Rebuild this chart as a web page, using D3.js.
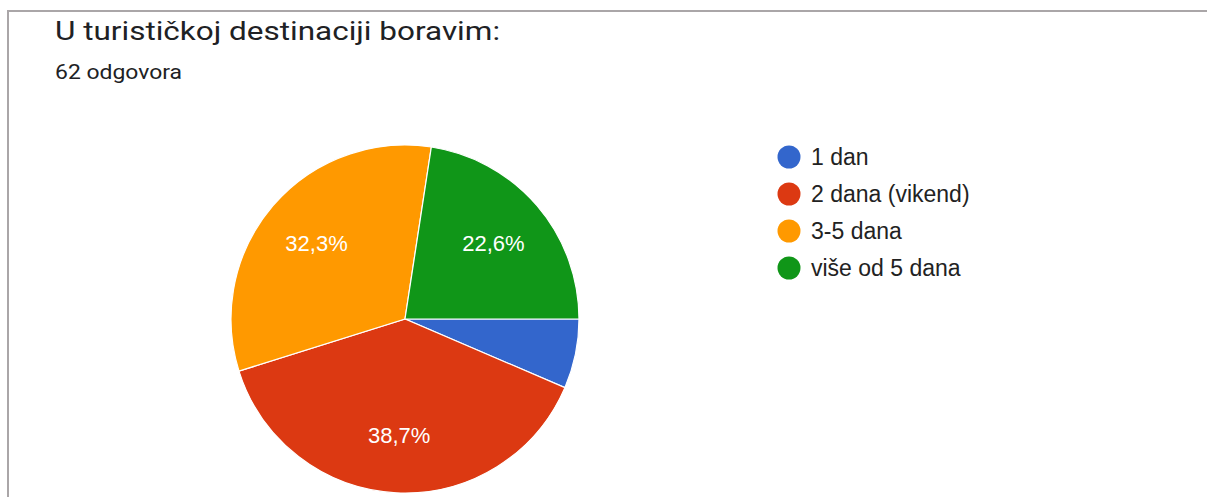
<!DOCTYPE html>
<html>
<head>
<meta charset="utf-8">
<script src="https://cdn.jsdelivr.net/npm/d3@7"></script>
<style>
  body { margin: 0; background: #fff; }
  text { font-family: "Liberation Sans", Arial, sans-serif; }
  .head { font-family: Roboto, "Open Sans", sans-serif; }
</style>
</head>
<body>
<script>
let width = 1207, height = 497;

// odgovori (62 ukupno)
let categories = ["1 dan", "2 dana (vikend)", "3-5 dana", "više od 5 dana"];
let counts = [4, 24, 20, 14];
let colors = ["#3366cc", "#dc3912", "#ff9900", "#109618"];

let total = d3.sum(counts);
let cx = 405, cy = 319, radius = 174;

let svg = d3.select("body").append("svg")
    .attr("width", width)
    .attr("height", height);

// okvir kartice
svg.append("line")
    .attr("x1", 8).attr("x2", width)
    .attr("y1", 11).attr("y2", 11)
    .attr("stroke", "#aaa6a8").attr("stroke-width", 2);
svg.append("line")
    .attr("x1", 8).attr("x2", 8)
    .attr("y1", 10).attr("y2", height)
    .attr("stroke", "#aaa6a8").attr("stroke-width", 2);

// naslov je u Google Sans, pa ga malo rastegnemo
svg.append("text")
    .attr("class", "head")
    .attr("x", 55).attr("y", 39.5)
    .attr("font-size", 25.5)
    .attr("fill", "#202124")
    .attr("textLength", 445)
    .attr("lengthAdjust", "spacingAndGlyphs")
    .text("U turističkoj destinaciji boravim:");

svg.append("text")
    .attr("class", "head")
    .attr("x", 55).attr("y", 78.5)
    .attr("font-size", 20.5)
    .attr("fill", "#202124")
    .attr("textLength", 127)
    .attr("lengthAdjust", "spacingAndGlyphs")
    .text(total + " odgovora");

let pie = d3.pie()
    .sort(null)
    .startAngle(Math.PI / 2)
    .endAngle(Math.PI / 2 + 2 * Math.PI);

let arc = d3.arc().innerRadius(0).outerRadius(radius);
let labelArc = d3.arc().innerRadius(radius * 0.67).outerRadius(radius * 0.67);

let g = svg.append("g").attr("transform", `translate(${cx},${cy})`);
let arcs = pie(counts);

g.selectAll("path.slice").data(arcs)
  .enter().append("path")
    .attr("class", "slice")
    .attr("d", arc)
    .attr("fill", (d, i) => colors[i])
    .attr("stroke", "#fff")
    .attr("stroke-width", 1.2);

let fmt = v => (v * 100).toFixed(1).replace(".", ",") + "%";

g.selectAll("text.pct").data(arcs.filter(d => d.value / total > 0.1))
  .enter().append("text")
    .attr("class", "pct")
    .attr("transform", d => `translate(${labelArc.centroid(d)})`)
    .attr("text-anchor", "middle")
    .attr("dy", "0.36em")
    .attr("font-size", 22)
    .attr("fill", "#fff")
    .text(d => fmt(d.value / total));

// legenda
let legend = svg.append("g").attr("transform", "translate(789,157)");
let item = legend.selectAll("g").data(categories)
  .enter().append("g")
    .attr("transform", (d, i) => `translate(0,${i * 37})`);
item.append("circle")
    .attr("r", 11.5)
    .attr("fill", (d, i) => colors[i]);
item.append("text")
    .attr("x", 22)
    .attr("dy", "0.36em")
    .attr("font-size", 23)
    .attr("fill", "#222")
    .text(d => d);
</script>
</body>
</html>
